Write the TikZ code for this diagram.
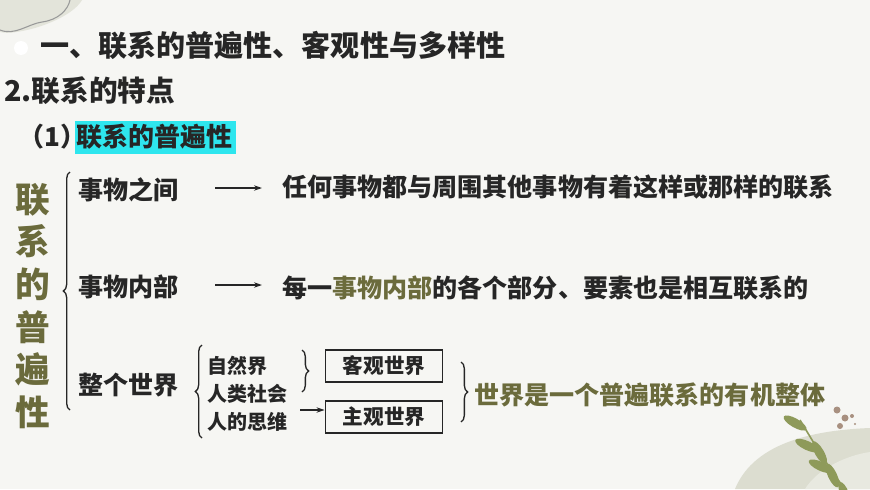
\documentclass[tikz,border=0pt]{standalone}
\usepackage{fontspec}
\newfontfamily\cjk{Noto Sans CJK SC}[UprightFont=* Black]
\usetikzlibrary{arrows.meta,decorations.pathreplacing}
\definecolor{bg}{HTML}{F6F6F3}
\definecolor{olive}{HTML}{6B6B3C}
\definecolor{sage}{HTML}{DCDDD0}
\definecolor{leaf}{HTML}{8E9A5A}
\definecolor{dotc}{HTML}{A89080}
\definecolor{hl}{HTML}{2EE6EE}
\tikzset{
 txt/.style={font=\cjk\fontsize{18.8}{20}\selectfont, text=black!85, inner sep=0pt, anchor=west},
 small/.style={font=\cjk\fontsize{15}{16}\selectfont, text=black!85, inner sep=0pt, anchor=west},
 arr/.style={-{Stealth[length=6pt,width=4pt]}, line width=1pt, black!85},
 brace/.style={decorate, decoration={brace, amplitude=5pt}, line width=1pt, black!85},
 wbox/.style={draw=black!85, line width=1.2pt, minimum width=88pt, minimum height=24pt, font=\cjk\fontsize{15.5}{16}\selectfont, text=black!85, inner sep=0pt}
}
\begin{document}
\begin{tikzpicture}[x=0.75pt,y=-0.75pt]
\useasboundingbox (0,0) rectangle (870,489);
\fill[bg] (0,0) rectangle (870,489);
% top-left decoration
\fill[sage!80] (0,0) -- (82,0) .. controls (75,12) and (55,22) .. (35,28) .. controls (20,32) and (8,34) .. (0,32) -- cycle;
\draw[black!40, line width=0.8pt] (0,30) .. controls (15,36) and (28,24) .. (42,22) .. controls (58,20) and (68,10) .. (70,0);
\fill[white] (21,48) circle (7);
% bottom-right decoration
\fill[sage] (735,489) .. controls (755,440) and (820,430) .. (870,428) -- (870,489) -- cycle;
\fill[sage!65] (805,489) .. controls (818,468) and (848,455) .. (870,452) -- (870,489) -- cycle;
\draw[leaf, line width=1.2pt] (800,420) .. controls (815,445) and (830,470) .. (845,489);
\foreach \p/\a/\dx in {0.12/-30/-12,0.3/-60/12,0.42/-25/-13,0.6/-65/13,0.72/-25/-13,0.9/-70/12}{
  \path (800,420) .. controls (815,445) and (830,470) .. (845,489) coordinate[pos=\p] (q);
  \fill[leaf, rotate around={\a:(q)}] ([xshift=\dx*0.75pt]q) ellipse (13 and 4.5);
}
\fill[dotc] (837,410) circle (3.5); \fill[dotc] (845,418) circle (3.5); \fill[dotc] (840,426) circle (3); \fill[dotc] (852,416) circle (2);\fill[dotc] (855,424) circle (1.2);
% titles
\node[anchor=west, inner sep=0pt, font=\cjk\fontsize{21.8}{24}\selectfont, text=black!85] (t1) at (40,45) {一、联系的普遍性、客观性与多样性};
\node[anchor=west, inner sep=0pt, font=\cjk\fontsize{21.5}{24}\selectfont, text=black!85] (t2) at (4,91) {2.联系的特点};
\fill[hl] (75,121) rectangle (236,154);
\node[anchor=west, inner sep=0pt, font=\cjk\fontsize{19.5}{22}\selectfont, text=black!85] (t3a) at (18,137) {（1）};
\node[anchor=west, inner sep=0pt, font=\cjk\fontsize{19.5}{22}\selectfont, text=black!85] (t3) at (76,137) {联系的普遍性};
% vertical title
\node[font=\cjk\fontsize{26}{32}\selectfont, text=olive, align=center, inner sep=0pt] (v) at (33,306) {联\\系\\的\\普\\遍\\性};
% main bracket
\draw[brace] (70,410) -- (70,172);
\node[txt] (a1) at (78,190) {事物之间};
\node[txt] (a2) at (78,287) {事物内部};
\node[txt] (a3) at (78,385) {整个世界};
\node[txt] (b1) at (282,187) {任何事物都与周围其他事物有着这样或那样的联系};
\node[txt] (b2) at (282,288) {每一\textcolor{olive}{事物内部}的各个部分、要素也是相互联系的};
\draw[arr] (215,188) -- (262,188);
\draw[arr] (215,285) -- (262,285);
% world
\draw[brace] (202,438) -- (202,345);
\node[small] (w1) at (207,366) {自然界};
\node[small] (w2) at (207,394) {人类社会};
\node[small] (w3) at (207,422) {人的思维};
\draw[brace] (302,350) -- (302,392);
\node[wbox] (k1) at (384,366) {客观世界};
\node[wbox] (k2) at (384,417) {主观世界};
\coordinate (s) at (300,410);
\draw[arr] (s) -- (k2.west |- s);
\draw[brace] (461,362) -- (461,422);
\node[txt, text=olive] (c) at (474,395) {世界是一个普遍联系的有机整体};
\end{tikzpicture}
\end{document}
